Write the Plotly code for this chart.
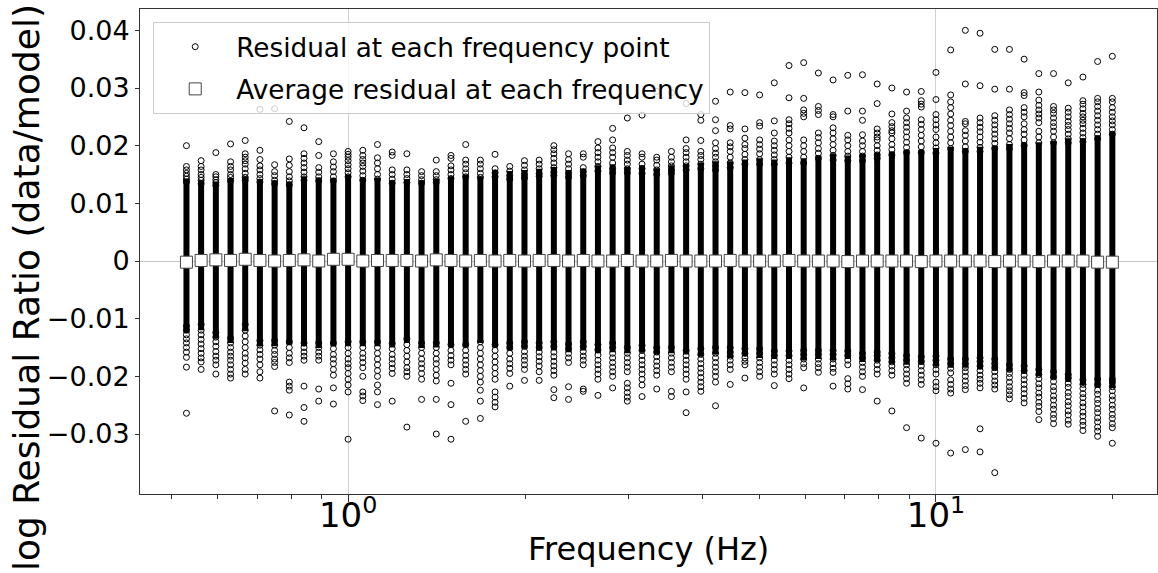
import plotly.graph_objects as go

# Frequency points (Hz), 40 per decade
freqs = [
    0.5309, 0.5623, 0.5957, 0.6310, 0.6683, 0.7079, 0.7499, 0.7943, 0.8414, 0.8913,
    0.9441, 1.0000, 1.0593, 1.1220, 1.1885, 1.2589, 1.3335, 1.4125, 1.4962, 1.5849,
    1.6788, 1.7783, 1.8836, 1.9953, 2.1135, 2.2387, 2.3714, 2.5119, 2.6607, 2.8184,
    2.9854, 3.1623, 3.3497, 3.5481, 3.7584, 3.9811, 4.2170, 4.4668, 4.7315, 5.0119,
    5.3088, 5.6234, 5.9566, 6.3096, 6.6834, 7.0795, 7.4989, 7.9433, 8.4140, 8.9125,
    9.4406, 10.000, 10.593, 11.220, 11.885, 12.589, 13.335, 14.125, 14.962, 15.849,
    16.788, 17.783, 18.836, 19.953,
]

# Densely packed residual band at each frequency (upper / lower edge)
band_top = [
    0.0142, 0.0140, 0.0138, 0.0144, 0.0147, 0.0142, 0.0140, 0.0138, 0.0147, 0.0145,
    0.0144, 0.0150, 0.0145, 0.0144, 0.0140, 0.0142, 0.0140, 0.0142, 0.0147, 0.0150,
    0.0147, 0.0158, 0.0156, 0.0158, 0.0160, 0.0163, 0.0158, 0.0160, 0.0166, 0.0168,
    0.0163, 0.0166, 0.0161, 0.0166, 0.0168, 0.0170, 0.0173, 0.0173, 0.0176, 0.0178,
    0.0176, 0.0180, 0.0178, 0.0183, 0.0186, 0.0183, 0.0186, 0.0188, 0.0190, 0.0193,
    0.0193, 0.0196, 0.0198, 0.0196, 0.0198, 0.0200, 0.0203, 0.0206, 0.0206, 0.0208,
    0.0213, 0.0213, 0.0218, 0.0225,
]
band_bottom = [
    -0.0125, -0.0120, -0.0135, -0.0142, -0.0122, -0.0148, -0.0148, -0.0145, -0.0148, -0.0151,
    -0.0148, -0.0148, -0.0148, -0.0148, -0.0150, -0.0142, -0.0151, -0.0150, -0.0150, -0.0150,
    -0.0142, -0.0150, -0.0155, -0.0152, -0.0155, -0.0155, -0.0158, -0.0155, -0.0160, -0.0158,
    -0.0160, -0.0158, -0.0162, -0.0160, -0.0162, -0.0165, -0.0162, -0.0168, -0.0165, -0.0168,
    -0.0170, -0.0170, -0.0172, -0.0170, -0.0172, -0.0170, -0.0175, -0.0175, -0.0178, -0.0180,
    -0.0180, -0.0182, -0.0185, -0.0185, -0.0188, -0.0190, -0.0192, -0.0195, -0.0200, -0.0205,
    -0.0210, -0.0215, -0.0220, -0.0220,
]

# Individual residuals standing out above the band
upper_points = [
    [0.0200, 0.0164, 0.0158, 0.0152, 0.0147, 0.0142, 0.0137],
    [0.0174, 0.0164, 0.0158, 0.0150, 0.0145, 0.0140, 0.0134],
    [0.0188, 0.0150, 0.0146, 0.0141, 0.0136, 0.0131],
    [0.0203, 0.0172, 0.0164, 0.0158, 0.0150, 0.0145, 0.0139],
    [0.0209, 0.0186, 0.0180, 0.0174, 0.0168, 0.0160, 0.0152, 0.0145, 0.0140],
    [0.0263, 0.0192, 0.0176, 0.0165, 0.0158, 0.0150, 0.0143, 0.0137],
    [0.0264, 0.0167, 0.0155, 0.0148, 0.0140, 0.0134],
    [0.0242, 0.0177, 0.0166, 0.0155, 0.0146, 0.0139, 0.0132],
    [0.0231, 0.0186, 0.0178, 0.0170, 0.0162, 0.0154, 0.0146, 0.0140],
    [0.0207, 0.0183, 0.0162, 0.0154, 0.0146, 0.0139],
    [0.0186, 0.0172, 0.0163, 0.0155, 0.0146, 0.0139],
    [0.0190, 0.0185, 0.0180, 0.0174, 0.0167, 0.0160, 0.0153, 0.0146],
    [0.0192, 0.0183, 0.0176, 0.0170, 0.0164, 0.0156, 0.0148, 0.0140],
    [0.0202, 0.0179, 0.0170, 0.0160, 0.0150, 0.0142],
    [0.0189, 0.0183, 0.0158, 0.0150, 0.0142, 0.0135],
    [0.0186, 0.0158, 0.0150, 0.0143, 0.0136],
    [0.0155, 0.0148, 0.0141, 0.0135],
    [0.0175, 0.0155, 0.0148, 0.0141, 0.0136],
    [0.0183, 0.0178, 0.0165, 0.0158, 0.0150, 0.0143],
    [0.0202, 0.0175, 0.0168, 0.0160, 0.0153, 0.0146],
    [0.0175, 0.0168, 0.0160, 0.0152, 0.0145],
    [0.0185, 0.0160, 0.0153, 0.0146],
    [0.0164, 0.0156, 0.0148, 0.0142],
    [0.0174, 0.0166, 0.0158, 0.0150, 0.0144],
    [0.0175, 0.0168, 0.0160, 0.0152, 0.0147],
    [0.0200, 0.0193, 0.0186, 0.0178, 0.0170, 0.0162, 0.0154, 0.0148],
    [0.0186, 0.0176, 0.0168, 0.0160, 0.0152, 0.0145],
    [0.0186, 0.0180, 0.0162, 0.0155, 0.0148],
    [0.0207, 0.0196, 0.0188, 0.0180, 0.0172, 0.0164, 0.0156],
    [0.0230, 0.0210, 0.0196, 0.0188, 0.0180, 0.0170, 0.0160, 0.0153],
    [0.0248, 0.0190, 0.0183, 0.0175, 0.0168, 0.0160, 0.0153],
    [0.0253, 0.0186, 0.0180, 0.0168, 0.0160, 0.0152],
    [0.0294, 0.0180, 0.0175, 0.0166, 0.0158, 0.0150],
    [0.0292, 0.0190, 0.0180, 0.0172, 0.0165, 0.0158, 0.0152],
    [0.0273, 0.0210, 0.0195, 0.0188, 0.0180, 0.0172, 0.0165, 0.0158],
    [0.0254, 0.0244, 0.0209, 0.0190, 0.0183, 0.0176, 0.0168, 0.0160],
    [0.0277, 0.0245, 0.0226, 0.0205, 0.0195, 0.0187, 0.0180, 0.0172, 0.0165, 0.0158],
    [0.0293, 0.0235, 0.0229, 0.0205, 0.0198, 0.0190, 0.0180, 0.0170, 0.0162],
    [0.0292, 0.0229, 0.0213, 0.0202, 0.0195, 0.0185, 0.0176, 0.0168],
    [0.0288, 0.0240, 0.0234, 0.0210, 0.0202, 0.0194, 0.0186, 0.0176, 0.0168],
    [0.0309, 0.0243, 0.0222, 0.0208, 0.0200, 0.0192, 0.0184, 0.0176, 0.0168],
    [0.0339, 0.0283, 0.0245, 0.0238, 0.0230, 0.0222, 0.0210, 0.0200, 0.0190, 0.0180, 0.0170],
    [0.0344, 0.0282, 0.0262, 0.0256, 0.0250, 0.0210, 0.0200, 0.0190, 0.0180, 0.0170],
    [0.0326, 0.0268, 0.0261, 0.0254, 0.0222, 0.0214, 0.0205, 0.0195, 0.0187, 0.0178],
    [0.0314, 0.0254, 0.0250, 0.0231, 0.0222, 0.0212, 0.0202, 0.0192, 0.0183, 0.0175],
    [0.0322, 0.0260, 0.0218, 0.0210, 0.0200, 0.0190, 0.0182, 0.0174],
    [0.0323, 0.0260, 0.0244, 0.0219, 0.0208, 0.0200, 0.0190, 0.0182, 0.0174],
    [0.0307, 0.0273, 0.0229, 0.0222, 0.0215, 0.0210, 0.0200, 0.0192, 0.0184, 0.0178],
    [0.0300, 0.0255, 0.0240, 0.0233, 0.0226, 0.0222, 0.0212, 0.0202, 0.0193, 0.0184],
    [0.0293, 0.0260, 0.0248, 0.0240, 0.0232, 0.0224, 0.0215, 0.0206, 0.0197, 0.0188],
    [0.0294, 0.0278, 0.0272, 0.0267, 0.0245, 0.0237, 0.0228, 0.0218, 0.0208, 0.0198, 0.0188],
    [0.0327, 0.0280, 0.0254, 0.0245, 0.0236, 0.0228, 0.0215, 0.0205, 0.0196, 0.0187],
    [0.0366, 0.0288, 0.0276, 0.0266, 0.0255, 0.0244, 0.0235, 0.0225, 0.0215, 0.0205, 0.0195],
    [0.0400, 0.0307, 0.0242, 0.0238, 0.0226, 0.0218, 0.0208, 0.0198, 0.0190],
    [0.0395, 0.0304, 0.0248, 0.0240, 0.0232, 0.0224, 0.0215, 0.0206, 0.0197, 0.0190],
    [0.0367, 0.0298, 0.0252, 0.0244, 0.0236, 0.0228, 0.0220, 0.0212, 0.0204, 0.0195],
    [0.0367, 0.0298, 0.0262, 0.0254, 0.0246, 0.0238, 0.0230, 0.0222, 0.0212, 0.0202, 0.0195],
    [0.0350, 0.0292, 0.0287, 0.0266, 0.0258, 0.0250, 0.0238, 0.0228, 0.0220, 0.0210, 0.0200],
    [0.0325, 0.0293, 0.0279, 0.0270, 0.0262, 0.0255, 0.0248, 0.0240, 0.0225, 0.0215, 0.0205],
    [0.0325, 0.0268, 0.0262, 0.0256, 0.0248, 0.0240, 0.0233, 0.0225, 0.0215, 0.0205],
    [0.0309, 0.0265, 0.0258, 0.0250, 0.0242, 0.0235, 0.0228, 0.0220, 0.0212, 0.0205],
    [0.0319, 0.0278, 0.0272, 0.0264, 0.0256, 0.0250, 0.0244, 0.0238, 0.0230, 0.0222, 0.0214, 0.0207],
    [0.0346, 0.0282, 0.0276, 0.0268, 0.0260, 0.0252, 0.0244, 0.0236, 0.0228, 0.0220, 0.0212],
    [0.0355, 0.0282, 0.0276, 0.0266, 0.0258, 0.0250, 0.0243, 0.0236, 0.0228, 0.0220],
]

# Individual residuals standing out below the band
lower_points = [
    [-0.0264, -0.0184, -0.0167, -0.0158, -0.0150, -0.0142, -0.0135, -0.0128, -0.0120, -0.0113],
    [-0.0188, -0.0175, -0.0168, -0.0160, -0.0152, -0.0144, -0.0136, -0.0128, -0.0120, -0.0110],
    [-0.0196, -0.0180, -0.0172, -0.0165, -0.0157, -0.0148, -0.0140, -0.0132, -0.0124],
    [-0.0203, -0.0196, -0.0188, -0.0180, -0.0172, -0.0165, -0.0158, -0.0150, -0.0142, -0.0134],
    [-0.0196, -0.0188, -0.0177, -0.0168, -0.0160, -0.0150, -0.0140, -0.0130, -0.0120, -0.0110],
    [-0.0203, -0.0192, -0.0180, -0.0170, -0.0162, -0.0154, -0.0146, -0.0138],
    [-0.0260, -0.0183, -0.0176, -0.0170, -0.0162, -0.0155, -0.0146, -0.0138],
    [-0.0267, -0.0224, -0.0217, -0.0210, -0.0176, -0.0168, -0.0160, -0.0150, -0.0140],
    [-0.0278, -0.0254, -0.0217, -0.0172, -0.0165, -0.0158, -0.0150, -0.0142],
    [-0.0243, -0.0222, -0.0172, -0.0165, -0.0158, -0.0150, -0.0142],
    [-0.0248, -0.0220, -0.0198, -0.0188, -0.0178, -0.0170, -0.0162, -0.0152, -0.0142],
    [-0.0309, -0.0227, -0.0215, -0.0205, -0.0195, -0.0185, -0.0178, -0.0170, -0.0160, -0.0150, -0.0140],
    [-0.0242, -0.0234, -0.0227, -0.0200, -0.0185, -0.0176, -0.0168, -0.0160, -0.0150, -0.0140],
    [-0.0249, -0.0227, -0.0215, -0.0200, -0.0190, -0.0180, -0.0170, -0.0160, -0.0150, -0.0140],
    [-0.0243, -0.0195, -0.0186, -0.0178, -0.0170, -0.0162, -0.0152, -0.0143],
    [-0.0288, -0.0200, -0.0192, -0.0185, -0.0175, -0.0165, -0.0155, -0.0145, -0.0135],
    [-0.0240, -0.0205, -0.0195, -0.0186, -0.0178, -0.0170, -0.0160, -0.0150, -0.0142],
    [-0.0300, -0.0240, -0.0208, -0.0198, -0.0188, -0.0178, -0.0170, -0.0160, -0.0150, -0.0142],
    [-0.0309, -0.0249, -0.0212, -0.0180, -0.0172, -0.0164, -0.0155, -0.0145],
    [-0.0278, -0.0196, -0.0188, -0.0180, -0.0172, -0.0164, -0.0155, -0.0145],
    [-0.0273, -0.0243, -0.0224, -0.0210, -0.0200, -0.0190, -0.0180, -0.0170, -0.0160, -0.0150, -0.0140],
    [-0.0253, -0.0245, -0.0236, -0.0227, -0.0205, -0.0195, -0.0185, -0.0175, -0.0165, -0.0155, -0.0145],
    [-0.0217, -0.0195, -0.0186, -0.0178, -0.0170, -0.0160, -0.0150, -0.0142],
    [-0.0207, -0.0188, -0.0180, -0.0172, -0.0165, -0.0157, -0.0148, -0.0140],
    [-0.0207, -0.0192, -0.0182, -0.0174, -0.0166, -0.0158, -0.0150, -0.0142],
    [-0.0237, -0.0223, -0.0198, -0.0190, -0.0182, -0.0174, -0.0166, -0.0158, -0.0148, -0.0140],
    [-0.0240, -0.0218, -0.0176, -0.0168, -0.0160, -0.0152, -0.0144],
    [-0.0226, -0.0222, -0.0180, -0.0172, -0.0165, -0.0157, -0.0148, -0.0140],
    [-0.0233, -0.0205, -0.0196, -0.0188, -0.0180, -0.0172, -0.0163, -0.0154, -0.0145],
    [-0.0220, -0.0200, -0.0192, -0.0184, -0.0176, -0.0168, -0.0160, -0.0150, -0.0142],
    [-0.0243, -0.0236, -0.0228, -0.0220, -0.0212, -0.0192, -0.0184, -0.0176, -0.0168, -0.0160, -0.0150],
    [-0.0235, -0.0215, -0.0205, -0.0196, -0.0188, -0.0180, -0.0172, -0.0164, -0.0155, -0.0146],
    [-0.0222, -0.0198, -0.0190, -0.0182, -0.0174, -0.0166, -0.0158, -0.0150],
    [-0.0235, -0.0226, -0.0192, -0.0184, -0.0176, -0.0168, -0.0160, -0.0150],
    [-0.0263, -0.0227, -0.0205, -0.0196, -0.0188, -0.0180, -0.0172, -0.0164, -0.0155],
    [-0.0226, -0.0218, -0.0210, -0.0202, -0.0194, -0.0186, -0.0178, -0.0170, -0.0162, -0.0152],
    [-0.0251, -0.0210, -0.0200, -0.0192, -0.0184, -0.0176, -0.0168, -0.0160, -0.0150],
    [-0.0214, -0.0188, -0.0180, -0.0172, -0.0165, -0.0158, -0.0150],
    [-0.0203, -0.0180, -0.0174, -0.0168, -0.0160, -0.0152],
    [-0.0200, -0.0192, -0.0184, -0.0176, -0.0168, -0.0160, -0.0152],
    [-0.0216, -0.0196, -0.0188, -0.0180, -0.0172, -0.0164, -0.0156],
    [-0.0204, -0.0196, -0.0188, -0.0180, -0.0172, -0.0164, -0.0156],
    [-0.0220, -0.0185, -0.0178, -0.0170, -0.0162, -0.0155],
    [-0.0193, -0.0185, -0.0178, -0.0170, -0.0162, -0.0155],
    [-0.0217, -0.0193, -0.0186, -0.0178, -0.0170, -0.0162, -0.0155],
    [-0.0222, -0.0213, -0.0204, -0.0180, -0.0172, -0.0164, -0.0156],
    [-0.0223, -0.0200, -0.0192, -0.0184, -0.0176, -0.0168, -0.0160],
    [-0.0243, -0.0196, -0.0188, -0.0180, -0.0172, -0.0164, -0.0158],
    [-0.0260, -0.0198, -0.0190, -0.0182, -0.0175, -0.0168, -0.0160],
    [-0.0289, -0.0212, -0.0204, -0.0196, -0.0188, -0.0180, -0.0172, -0.0164],
    [-0.0307, -0.0214, -0.0206, -0.0198, -0.0190, -0.0182, -0.0174, -0.0166],
    [-0.0316, -0.0225, -0.0218, -0.0210, -0.0196, -0.0188, -0.0180, -0.0172, -0.0165],
    [-0.0333, -0.0229, -0.0222, -0.0214, -0.0206, -0.0194, -0.0186, -0.0178, -0.0170],
    [-0.0327, -0.0223, -0.0216, -0.0208, -0.0200, -0.0192, -0.0185, -0.0178, -0.0170],
    [-0.0331, -0.0291, -0.0220, -0.0212, -0.0205, -0.0198, -0.0190, -0.0182, -0.0174, -0.0168],
    [-0.0367, -0.0222, -0.0215, -0.0208, -0.0200, -0.0192, -0.0185, -0.0178, -0.0170],
    [-0.0239, -0.0232, -0.0225, -0.0218, -0.0210, -0.0202, -0.0195, -0.0188, -0.0180],
    [-0.0246, -0.0238, -0.0230, -0.0222, -0.0214, -0.0206, -0.0198, -0.0190, -0.0182],
    [-0.0275, -0.0261, -0.0252, -0.0245, -0.0236, -0.0229, -0.0220, -0.0213, -0.0204, -0.0197, -0.0188],
    [-0.0282, -0.0273, -0.0266, -0.0257, -0.0250, -0.0241, -0.0234, -0.0225, -0.0218, -0.0209, -0.0201, -0.0192],
    [-0.0283, -0.0276, -0.0267, -0.0260, -0.0251, -0.0244, -0.0235, -0.0228, -0.0219, -0.0212, -0.0203, -0.0197],
    [-0.0294, -0.0285, -0.0278, -0.0269, -0.0262, -0.0253, -0.0246, -0.0237, -0.0230, -0.0221, -0.0214, -0.0206],
    [-0.0304, -0.0295, -0.0288, -0.0279, -0.0272, -0.0263, -0.0256, -0.0247, -0.0240, -0.0231, -0.0224, -0.0214, -0.0205],
    [-0.0316, -0.0289, -0.0282, -0.0273, -0.0266, -0.0257, -0.0250, -0.0241, -0.0234, -0.0225, -0.0218, -0.0210, -0.0205],
]

# Mean residual at each frequency
mean_residual = [
    -0.0002, 0.0001, 0.0002, 0.0001, 0.0003, 0.0001, 0.0000, 0.0001, 0.0002, 0.0000,
    0.0003, 0.0003, 0.0000, 0.0001, 0.0001, 0.0001, 0.0000, 0.0002, 0.0001, 0.0000,
    0.0001, 0.0000, 0.0001, 0.0000, 0.0001, 0.0001, 0.0000, 0.0001, 0.0000, 0.0000,
    0.0001, 0.0000, 0.0000, 0.0001, 0.0000, 0.0000, 0.0000, 0.0001, 0.0000, 0.0000,
    0.0000, 0.0001, 0.0000, 0.0000, 0.0000, -0.0001, 0.0000, 0.0000, 0.0000, 0.0000,
    -0.0001, 0.0000, 0.0000, 0.0000, 0.0000, -0.0001, 0.0000, 0.0000, -0.0001, 0.0000,
    0.0000, 0.0000, -0.0002, -0.0002,
]

FONT = "DejaVu Sans"

band_x, band_y = [], []
for f, lo, hi in zip(freqs, band_bottom, band_top):
    band_x += [f, f, None]
    band_y += [lo, hi, None]

pt_x, pt_y = [], []
for f, ups, lows in zip(freqs, upper_points, lower_points):
    for v in ups + lows:
        pt_x.append(f)
        pt_y.append(v)

fig = go.Figure()

fig.add_trace(go.Scatter(
    x=band_x, y=band_y, mode="lines",
    line=dict(color="black", width=6),
    showlegend=False, hoverinfo="skip",
))

fig.add_trace(go.Scatter(
    x=pt_x, y=pt_y, mode="markers",
    name="Residual at each frequency point", legendgroup="pts",
    marker=dict(symbol="circle-open", size=6, color="black", line=dict(width=1, color="black")),
))

fig.add_trace(go.Scatter(
    x=freqs, y=mean_residual, mode="markers",
    name="Average residual at each frequency", legendgroup="avg",
    marker=dict(symbol="square", size=12, color="white", line=dict(width=1, color="#444444")),
))

fig.update_layout(
    width=1158, height=573,
    margin=dict(l=140, r=1, t=9, b=79),
    paper_bgcolor="white", plot_bgcolor="white",
    font=dict(family=FONT, color="black"),
    showlegend=True,
    legend=dict(
        x=0.013, y=0.973, xanchor="left", yanchor="top",
        bgcolor="rgba(255,255,255,0.8)", bordercolor="#cccccc", borderwidth=1,
        font=dict(size=26.3, family=FONT),
        itemwidth=72, tracegroupgap=5,
    ),
    xaxis=dict(
        type="log", range=[-0.354, 1.376],
        tickvals=[1, 10], ticktext=["10<sup>0</sup>", "10<sup>1</sup>"],
        tickfont=dict(size=34),
        ticks="outside", ticklen=7, tickwidth=1, tickcolor="#333333",
        ticklabelstandoff=-16,
        showgrid=True, gridcolor="#d0d0d0", gridwidth=1,
        showline=True, linecolor="#333333", linewidth=1, mirror=True,
        zeroline=False,
        minor=dict(
            tickvals=[0.5, 0.6, 0.7, 0.8, 0.9, 2, 3, 4, 5, 6, 7, 8, 9, 20],
            ticks="outside", ticklen=4, tickcolor="#333333", showgrid=False,
        ),
    ),
    yaxis=dict(
        range=[-0.0404, 0.0437],
        tickvals=[-0.03, -0.02, -0.01, 0, 0.01, 0.02, 0.03, 0.04],
        ticktext=["\u22120.03", "\u22120.02", "\u22120.01", "0", "0.01", "0.02", "0.03", "0.04"],
        tickfont=dict(size=27),
        ticks="outside", ticklen=4, tickwidth=1, tickcolor="#333333",
        showgrid=False,
        zeroline=True, zerolinecolor="#c8c8c8", zerolinewidth=1,
        showline=True, linecolor="#333333", linewidth=1, mirror=True,
    ),
    annotations=[
        dict(text="Frequency (Hz)", xref="paper", yref="paper", x=0.5, y=-0.113,
             xanchor="center", yanchor="middle", showarrow=False,
             font=dict(size=32, family=FONT)),
        dict(text="log Residual Ratio (data/model)", xref="paper", yref="paper",
             x=-0.133, y=0.425, xanchor="left", yanchor="middle", textangle=-90,
             showarrow=False, font=dict(size=36, family=FONT)),
    ],
)

fig.write_html("out.html")
